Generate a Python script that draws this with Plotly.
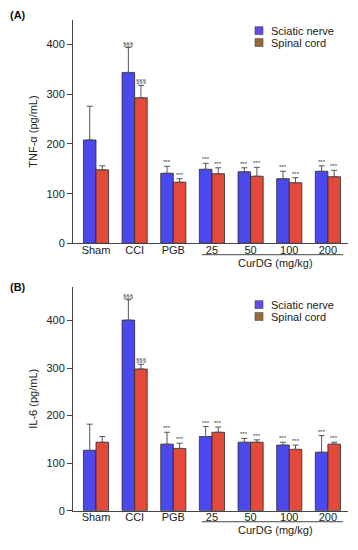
import plotly.graph_objects as go

categories = ["Sham", "CCI", "PGB", "25", "50", "100", "200"]
sig_labels = ["", "§§§", "***", "***", "***", "***", "***"]

# Panel A: TNF-alpha
tnf_sciatic = [208, 344, 141, 149, 144, 130, 145]
tnf_sciatic_err = [68, 50, 14, 12, 8, 15, 11]
tnf_spinal = [148, 293, 123, 140, 135, 122, 134]
tnf_spinal_err = [8, 25, 7, 12, 18, 10, 13]

# Panel B: IL-6
il6_sciatic = [127, 401, 140, 156, 144, 138, 123]
il6_sciatic_err = [55, 43, 25, 21, 8, 6, 35]
il6_spinal = [144, 298, 131, 165, 144, 129, 140]
il6_spinal_err = [12, 10, 11, 11, 5, 9, 4]

y_ticks = [0, 100, 200, 300, 400]

BLUE = "#4B48EE"
RED = "#E44A3A"
LEG_BLUE = "#6A48E8"
LEG_BROWN = "#9A6A3C"
FONT = "Liberation Sans, Arial, sans-serif"

W, H = 358, 550

def px_x(p):
    return p / W

def px_y(p):
    return 1 - p / H

fig = go.Figure()

panels = [
    ("x", "y", tnf_sciatic, tnf_sciatic_err, tnf_spinal, tnf_spinal_err),
    ("x2", "y2", il6_sciatic, il6_sciatic_err, il6_spinal, il6_spinal_err),
]

annotations = []
for xa, ya, s_val, s_err, c_val, c_err in panels:
    for name, vals, errs, col, sh in [("Sciatic nerve", s_val, s_err, BLUE, -6.3),
                                       ("Spinal cord", c_val, c_err, RED, 6.3)]:
        fig.add_trace(go.Bar(
            x=list(range(len(categories))), y=vals, name=name, xaxis=xa, yaxis=ya,
            marker=dict(color=col, line=dict(color="#2a2a2a", width=0.8)),
            error_y=dict(type="data", symmetric=False, array=errs,
                         arrayminus=[0] * len(errs), color="#555555",
                         thickness=1, width=3),
            showlegend=False,
        ))
        for i, (v, e) in enumerate(zip(vals, errs)):
            if sig_labels[i]:
                annotations.append(dict(
                    x=i, y=v + e, xref=xa, yref=ya, text=sig_labels[i],
                    showarrow=False, xshift=sh, yshift=-1, yanchor="bottom",
                    font=dict(size=6, color="#333333", family=FONT)))

axis_x = dict(range=[-0.595, 6.52], tickmode="array",
              tickvals=list(range(len(categories))), ticktext=categories,
              showline=True, linecolor="#444444", linewidth=1, ticks="",
              ticklabelstandoff=-4,
              showgrid=False, zeroline=False,
              tickfont=dict(size=11, color="#222222", family=FONT))

def axis_y(title, rng):
    return dict(range=rng, tickvals=y_ticks, showline=True, linecolor="#444444",
                linewidth=1, ticks="outside", ticklen=5, tickcolor="#444444",
                showgrid=False, zeroline=False,
                tickfont=dict(size=11, color="#222222", family=FONT),
                title=dict(text=title, standoff=6,
                           font=dict(size=11, color="#222222", family=FONT)))

# Panel pixel layout
A_top, A_bot = 20, 246
B_top, B_bot = 290, 516.3
x_left, x_right = 73, 348

fig.update_layout(
    width=W, height=H, margin=dict(l=0, r=0, t=0, b=0),
    paper_bgcolor="white", plot_bgcolor="white",
    barmode="group", bargap=0.35, bargroupgap=0,
    font=dict(family=FONT, color="#222222"),
    xaxis=dict(axis_x, domain=[px_x(x_left), px_x(x_right)], anchor="y"),
    yaxis=dict(axis_y("TNF-α (pg/mL)", [0, 450]), domain=[px_y(A_bot), px_y(A_top)], anchor="x"),
    xaxis2=dict(axis_x, domain=[px_x(x_left), px_x(x_right)], anchor="y2"),
    yaxis2=dict(axis_y("IL-6 (pg/mL)", [0, 471]), domain=[px_y(B_bot), px_y(B_top)], anchor="x2"),
)

shapes = []
for xa, under_y, text_y, leg_y, lab_y, lab in [("x", 257.5, 266, 31, 15, "(A)"),
                                                ("x2", 527.5, 536, 308, 290, "(B)")]:
    shapes.append(dict(type="line", xref=xa, yref="paper", x0=2.74, x1=6.39,
                       y0=px_y(under_y), y1=px_y(under_y),
                       line=dict(color="#444444", width=1)))
    annotations.append(dict(x=4.65, y=px_y(text_y), xref=xa, yref="paper",
                            text="CurDG (mg/kg)", showarrow=False, yanchor="middle",
                            font=dict(size=11, color="#222222", family=FONT)))
    annotations.append(dict(x=px_x(8), y=px_y(lab_y), xref="paper", yref="paper",
                            text="<b>(%s)</b>" % lab[1], showarrow=False,
                            xanchor="left", yanchor="middle",
                            font=dict(size=11, color="#111111", family=FONT)))
    for k, (nm, col) in enumerate([("Sciatic nerve", LEG_BLUE), ("Spinal cord", LEG_BROWN)]):
        cy = leg_y + k * 12
        shapes.append(dict(type="rect", xref="paper", yref="paper",
                           x0=px_x(255), x1=px_x(263), y0=px_y(cy + 4), y1=px_y(cy - 4),
                           fillcolor=col, line=dict(color="#444444", width=0.6)))
        annotations.append(dict(x=px_x(269), y=px_y(cy), xref="paper", yref="paper",
                                text=nm, showarrow=False, xanchor="left", yanchor="middle",
                                font=dict(size=11, color="#222222", family=FONT)))

fig.update_layout(shapes=shapes, annotations=annotations)

fig.write_html("out.html", config={"displayModeBar": False},
               post_script="document.body.style.margin='0';document.body.style.overflow='hidden';")
